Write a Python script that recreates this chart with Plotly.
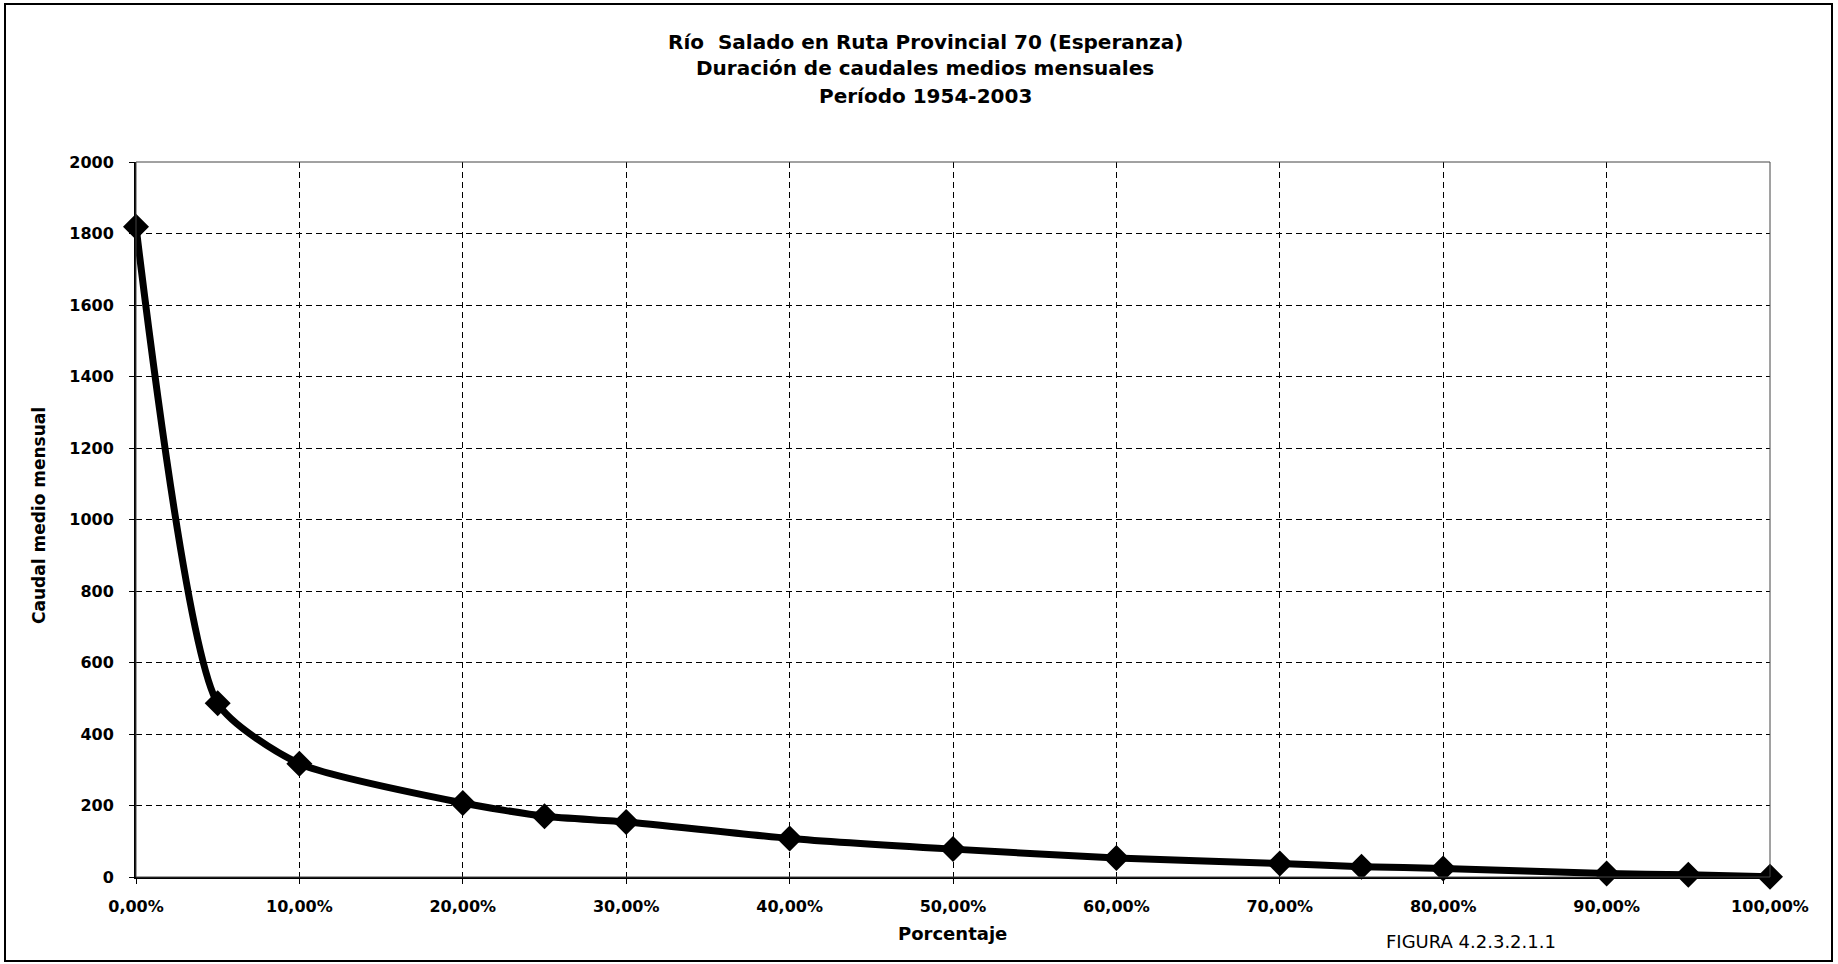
import plotly.graph_objects as go

# Data
porcentaje = [0.00, 0.05, 0.10, 0.20, 0.25, 0.30, 0.40, 0.50, 0.60, 0.70, 0.75, 0.80, 0.90, 0.95, 1.00]
caudal = [1819, 486, 317, 207, 170, 154, 108, 78, 53, 38, 29, 24, 10, 6, 1]

x_ticks = [0.0, 0.1, 0.2, 0.3, 0.4, 0.5, 0.6, 0.7, 0.8, 0.9, 1.0]
y_ticks = [0, 200, 400, 600, 800, 1000, 1200, 1400, 1600, 1800, 2000]

title_lines = [
    "Río  Salado en Ruta Provincial 70 (Esperanza)",
    "Duración de caudales medios mensuales",
    "Período 1954-2003",
]
y_title = "Caudal medio mensual"
x_title = "Porcentaje"
figure_label = "FIGURA 4.2.3.2.1.1"

FONT = "DejaVu Sans, Liberation Sans, Arial, sans-serif"
W, H = 1838, 964
L, R, T, B = 136, 68, 162, 87
pw, ph = W - L - R, H - T - B


def px_x(p):
    return (p - L) / pw


def px_y(p):
    return (H - B - p) / ph


fig = go.Figure()
fig.add_trace(go.Scatter(
    x=porcentaje, y=caudal,
    mode="lines+markers",
    line=dict(color="black", width=7, shape="spline", smoothing=0.6),
    marker=dict(symbol="diamond", size=20, color="black"),
    cliponaxis=False,
    showlegend=False,
))

x_font = dict(family=FONT, size=16, color="black", weight="bold")
y_font = dict(family=FONT, size=16, color="black", weight="bold")

fig.update_layout(
    width=W, height=H,
    margin=dict(l=L, r=R, t=T, b=B),
    paper_bgcolor="white", plot_bgcolor="white",
    separators=",.",
    font=dict(family=FONT, color="black"),
    xaxis=dict(
        range=[0, 1], tickvals=x_ticks, tickformat=".2%",
        showgrid=True, gridcolor="black", gridwidth=1, griddash="6px,4px",
        showline=True, linecolor="black", linewidth=2,
        ticks="outside", ticklen=5, tickcolor="black",
        tickfont=x_font, ticklabelstandoff=9, zeroline=False,
    ),
    yaxis=dict(
        range=[0, 2000], tickvals=y_ticks,
        showgrid=True, gridcolor="black", gridwidth=1, griddash="6px,4px",
        showline=True, linecolor="black", linewidth=2,
        ticks="outside", ticklen=5, tickcolor="black",
        tickfont=y_font, ticklabelstandoff=12, zeroline=False,
    ),
)

# plot frame (top/right thin lines)
fig.add_shape(type="rect", xref="paper", yref="paper", x0=0, y0=0, x1=1, y1=1,
              line=dict(color="#444", width=1), layer="above")
# outer chart border
fig.add_shape(type="rect", xref="paper", yref="paper",
              x0=px_x(5), x1=px_x(1832), y0=px_y(961), y1=px_y(4),
              line=dict(color="black", width=2))

# title lines
for txt, ypix in zip(title_lines, [42, 68, 96]):
    fig.add_annotation(text=txt, xref="paper", yref="paper",
                       x=px_x(925), y=px_y(ypix), showarrow=False,
                       xanchor="center", yanchor="middle",
                       font=dict(family=FONT, size=20, color="black", weight="bold"))

fig.add_annotation(text=y_title, xref="paper", yref="paper",
                   x=px_x(39), y=px_y(516), textangle=-90, showarrow=False,
                   xanchor="center", yanchor="middle",
                   font=dict(family=FONT, size=17, color="black", weight="bold"))
fig.add_annotation(text=x_title, xref="paper", yref="paper",
                   x=px_x(952), y=px_y(933), showarrow=False,
                   xanchor="center", yanchor="middle",
                   font=dict(family=FONT, size=18, color="black", weight="bold"))
fig.add_annotation(text=figure_label, xref="paper", yref="paper",
                   x=px_x(1471), y=px_y(942), showarrow=False,
                   xanchor="center", yanchor="middle",
                   font=dict(family=FONT, size=18, color="black"))

fig.write_html("out.html", config={"displayModeBar": False},
               post_script="document.body.style.margin='0';")
